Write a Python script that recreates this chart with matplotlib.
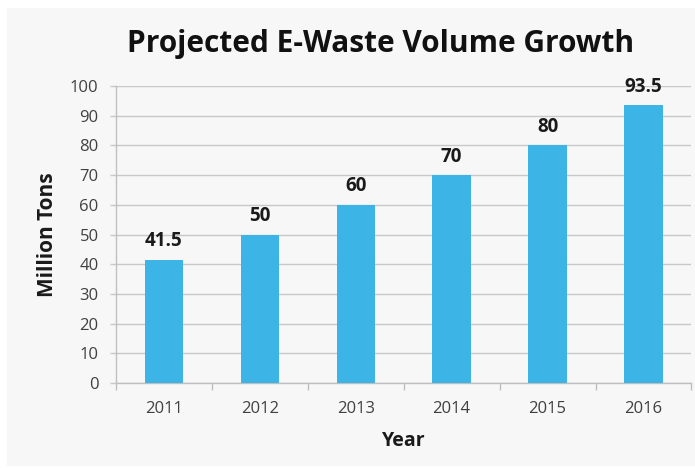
import numpy as np
import matplotlib
matplotlib.use('Agg')
import matplotlib.pyplot as plt
import matplotlib.patches as mpatches

years = ['2011', '2012', '2013', '2014', '2015', '2016']
volumes = [41.5, 50, 60, 70, 80, 93.5]
volume_labels = ['41.5', '50', '60', '70', '80', '93.5']

plt.rcParams['font.family'] = ['Open Sans', 'DejaVu Sans']

fig = plt.figure(figsize=(6.95, 4.68), dpi=100)
fig.patch.set_facecolor('white')
fig.patches.append(mpatches.Rectangle((7 / 695, 2 / 468), 688 / 695, 458 / 468,
                                      transform=fig.transFigure, facecolor='#f7f7f7',
                                      edgecolor='none', zorder=-10))

ax = fig.add_axes([0.1669, 0.1816, 0.828, 0.6346])
ax.set_facecolor('#f7f7f7')
x = np.arange(len(years))
ax.bar(x, volumes, width=0.4, color='#3cb4e6', zorder=3)
for xi, v, lab in zip(x, volumes, volume_labels):
    ax.text(xi, v + 2.8, lab, ha='center', va='bottom', fontsize=13.5,
            fontweight='bold', color='#1a1a1a', zorder=4)

ax.set_xlim(-0.5, len(years) - 0.5)
ax.set_ylim(0, 100)
ax.set_yticks(range(0, 101, 10))
ax.yaxis.grid(True, color='#c8c8c8', linewidth=1.0, zorder=0)
ax.set_axisbelow(True)

ax.set_xticks(x)
ax.set_xticklabels(years, fontsize=12, color='#404040')
ax.set_xticks(np.arange(-0.5, len(years), 1), minor=True)
ax.tick_params(axis='x', which='major', length=0, pad=13)
ax.tick_params(axis='x', which='minor', length=5, color='#bfbfbf', width=1)
ax.tick_params(axis='y', length=4.5, color='#c8c8c8', width=1, labelsize=12,
               labelcolor='#404040', pad=8)

for side in ['top', 'right']:
    ax.spines[side].set_visible(False)
for side in ['left', 'bottom']:
    ax.spines[side].set_color('#bfbfbf')
    ax.spines[side].set_linewidth(1)

ax.set_xlabel('Year', fontsize=14, fontweight='bold', color='#1a1a1a', labelpad=10)
ax.set_ylabel('Million Tons', fontsize=15, fontweight='bold', color='#1a1a1a', labelpad=9)

fig.text(0.547, 0.905, 'Projected E-Waste Volume Growth', ha='center', va='center',
         fontsize=21.5, fontweight='bold', color='#111111')

fig.savefig('out.png', dpi=100, facecolor='white')
